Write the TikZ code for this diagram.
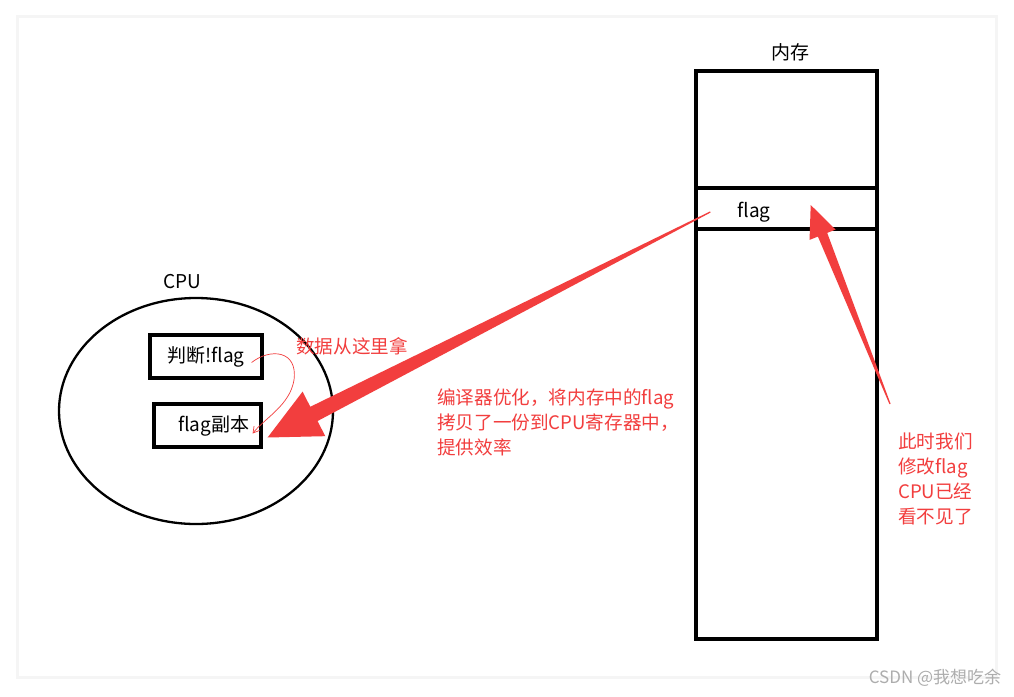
\documentclass[tikz,border=0pt]{standalone}
\usepackage{fontspec}
\setmainfont{Noto Sans CJK SC}
\usetikzlibrary{calc,shapes.geometric,arrows.meta}
\definecolor{markred}{RGB}{242,62,62}

\begin{document}
\begin{tikzpicture}[x=1pt,y=-1pt,
		label/.style={font=\fontsize{19}{22}\selectfont, inner sep=0pt},
		note/.style={font=\fontsize{18.6}{25}\selectfont, text=markred, inner sep=0pt, align=left},
		cell/.style={draw, line width=3.2pt, minimum width=181pt, inner sep=0pt},
		regbox/.style={draw, line width=3.2pt, inner sep=0pt, font=\fontsize{19}{22}\selectfont}]
	\useasboundingbox (0,0) rectangle (1014,696);
	% card
	\fill[white] (0,0) rectangle (1014,696);
	\draw[black!4, line width=6pt] (19,18) rectangle (995,676);
	\fill[white] (19,18) rectangle (995,676);

	% memory
	\draw (786.5,129.5) 	node[cell, minimum height=117pt] 			(memtop) 	{};
	\draw (786.5,208.5) 	node[cell, minimum height=41pt] 			(memflag) 	{};
	\draw (786.5,434) 		node[cell, minimum height=410pt] 			(membot) 	{};
	\draw (790,52) 			node[label] 								(memname) 	{内存};
	\draw (754,212) 		node[label] 								(flag) 		{flag};

	% cpu
	\draw (196,411) 		node[draw, ellipse, line width=2.3pt, minimum width=274pt, minimum height=226pt] (cpu) {};
	\draw (182,282) 		node[label] 								(cpuname) 	{CPU};
	\draw (206,356.5) 		node[regbox, minimum width=112pt, minimum height=43pt] 	(check) 	{判断!flag};
	\draw (207.5,425.5) 	node[regbox, minimum width=107pt, minimum height=43pt] 	(copy) 		{\hspace*{12pt}flag副本};

	% notes
	\draw (296,346) 		node[note, anchor=west] 					(fetch) 	{数据从这里拿};
	\draw (437,389) 		node[note, anchor=north west] 				(optim) 	{编译器优化，将内存中的flag\\拷贝了一份到CPU寄存器中，\\提供效率};
	\draw (898,433) 		node[note, anchor=north west] 				(unseen) 	{此时我们\\修改flag\\CPU已经\\看不见了};
	\draw (935,678) 		node[font=\fontsize{17}{20}\selectfont, text=black!32] (mark) {CSDN @我想吃余};

	% hand drawn loop
	\draw[markred, line width=0.7pt, -{Straight Barb[length=6pt,width=7pt]}] ($(check.east)+(-12,6)$) .. controls (270,348) and (298,350) .. (294,380) .. controls (290,405) and (265,418) .. ($(copy.east)+(-10,8)$);

	% big arrow: memory flag -> register copy
	\coordinate (from) at ($(flag.west)+(-27,0)$);
	\coordinate (to) at ($(copy.east)+(5,12)$);
	\coordinate (base) at ($(to)!52pt!(from)$);
	\fill[markred] ($(from)!0.6pt!90:(to)$) -- ($(base)!8pt!90:(to)$) -- ($(base)!25pt!90:(to)$) -- (to)
		-- ($(base)!25pt!-90:(to)$) -- ($(base)!8pt!-90:(to)$) -- ($(from)!0.6pt!-90:(to)$) -- cycle;

	% small arrow: note -> memory flag
	\coordinate (from2) at (890,404);
	\coordinate (to2) at ($(flag.east)+(40,-7)$);
	\coordinate (base2) at ($(to2)!32pt!(from2)$);
	\fill[markred] ($(from2)!0.6pt!90:(to2)$) -- ($(base2)!5pt!90:(to2)$) -- ($(base2)!14pt!90:(to2)$) -- (to2)
		-- ($(base2)!14pt!-90:(to2)$) -- ($(base2)!5pt!-90:(to2)$) -- ($(from2)!0.6pt!-90:(to2)$) -- cycle;
\end{tikzpicture}
\end{document}
